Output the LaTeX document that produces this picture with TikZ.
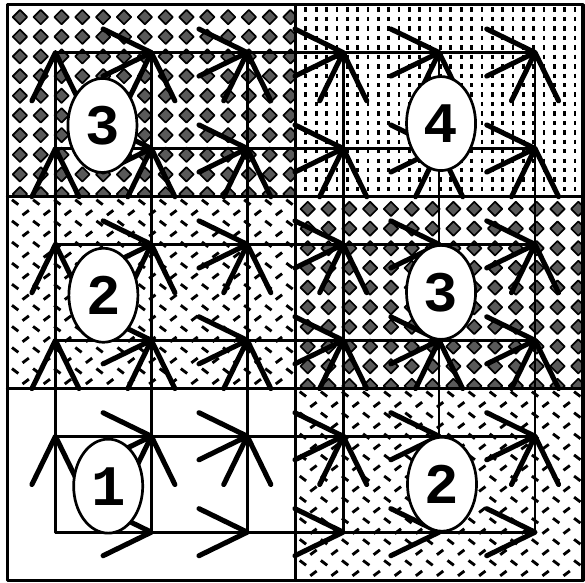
\documentclass[tikz,border=0pt]{standalone}
\usepackage{fontspec}
\newfontfamily\digitfont{Liberation Mono}
\usetikzlibrary{shapes.geometric}
\begin{document}
\begin{tikzpicture}[line join=round,line cap=round,
	gridline/.style={line width=.8pt},
	spoke/.style={line width=1.5pt},
	oval/.style={draw,fill=white,ellipse,line width=.8pt,inner sep=0pt,
		minimum width=.72cm,minimum height=.98cm,
		font=\digitfont\bfseries\fontsize{17}{17}\selectfont},
	tile/.style={fill=black!65,draw=black,line width=.5pt},
	vdash/.style={line width=.8pt,line cap=butt,dash pattern=on 1.3pt off 1.5pt},
	sdash/.style={line width=.85pt,line cap=butt}]
	\useasboundingbox (-0.578,-0.52) rectangle (5.521,5.548);
	\foreach \i in {0,...,5} \foreach \j in {0,...,5} \coordinate (p\i\j) at (\i,\j);
	% diamond tiles
	\foreach \cx/\cy in {-0.5/5.5,2.5/3.5}{
		\begin{scope}
			\clip (\cx,\cy) rectangle ++(3,-2);
			\foreach \a in {0,...,13} \foreach \b in {0,...,9}
			\filldraw[tile] ({\cx+0.13+0.217*\a},{\cy-0.13-0.205*\b}) +(0.075,0) -- +(0,0.075) -- +(-0.075,0) -- +(0,-0.075) -- cycle;
		\end{scope}}
	% vertical dashes
	\foreach \a in {0,...,26} \draw[vdash] ({2.61+0.108*\a},5.47) -- ++(0,-1.97);
	% slanted dashes
	\foreach \cx/\cy in {-0.5/3.5,2.5/1.5}{
		\begin{scope}
			\clip (\cx,\cy) rectangle ++(3,-2);
			\foreach \b in {0,...,9} \foreach \a in {0,...,13}{
				\draw[sdash] ({\cx+0.08+0.22*\a},{\cy-0.06-0.22*\b}) +(-0.033,0.025) -- +(0.033,-0.025);
				\draw[sdash] ({\cx+0.19+0.22*\a},{\cy-0.17-0.22*\b}) +(-0.033,-0.025) -- +(0.033,0.025);}
		\end{scope}}
	\draw[line width=.9pt] (-0.5,-0.5) rectangle (5.5,5.5) (2.5,-0.5) -- (2.5,5.5)
	(-0.5,1.5) -- (5.5,1.5) (-0.5,3.5) -- (5.5,3.5);
	% edges and heads
	\foreach \i [count=\k] in {0,...,4} \foreach \j in {0,...,5}{
		\draw[gridline] (p\i\j) -- (p\k\j);
		\draw[gridline] (p\j\i) -- (p\j\k);
		\draw[spoke] ([shift={(154:.56)}]p\k\j) -- (p\k\j) -- ([shift={(206:.56)}]p\k\j);
		\draw[spoke] ([shift={(244:.56)}]p\j\k) -- (p\j\k) -- ([shift={(296:.56)}]p\j\k);}
	\node[oval] (tl) at (0.49,4.24) {3};
	\node[oval] (tr) at (4.02,4.26) {4};
	\node[oval] (ml) at (0.5,2.47) {2};
	\node[oval] (mr) at (4.02,2.5) {3};
	\node[oval] (bl) at (0.55,0.48) {1};
	\node[oval] (br) at (4.03,0.5) {2};
\end{tikzpicture}
\end{document}
